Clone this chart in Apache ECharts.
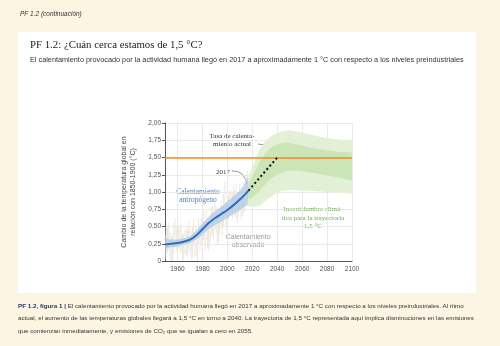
<!DOCTYPE html>
<html>
<head>
<meta charset="utf-8">
<script src="https://cdn.jsdelivr.net/npm/echarts@6/dist/echarts.min.js"></script>
<style>
  html, body { margin: 0; padding: 0; background: #fdf5e4; }
  #chart { width: 500px; height: 346px; }
</style>
</head>
<body>
<div id="chart"></div>
<script>
// Axis ticks
const yearTicks = [1960, 1980, 2000, 2020, 2040, 2060, 2080, 2100];
const tempTicks = [0, 0.25, 0.5, 0.75, 1, 1.25, 1.5, 1.75, 2];

// Human-induced warming (°C relative to 1850-1900) with its likely range
const anthroYears = [1950, 1955, 1960, 1965, 1970, 1975, 1980, 1985, 1990, 1995, 2000, 2005, 2010, 2015, 2017];
const anthroMid   = [0.24, 0.25, 0.26, 0.28, 0.31, 0.37, 0.46, 0.55, 0.62, 0.68, 0.74, 0.81, 0.89, 0.98, 1.02];
const anthroLow   = [0.18, 0.20, 0.21, 0.24, 0.26, 0.31, 0.38, 0.46, 0.52, 0.57, 0.62, 0.68, 0.74, 0.80, 0.82];
const anthroHigh  = [0.32, 0.31, 0.31, 0.33, 0.36, 0.44, 0.54, 0.64, 0.72, 0.79, 0.86, 0.94, 1.02, 1.16, 1.22];

// Observed monthly warming: yearly lowest and highest month
const obsYears = [1950, 1951, 1952, 1953, 1954, 1955, 1956, 1957, 1958, 1959,
                  1960, 1961, 1962, 1963, 1964, 1965, 1966, 1967, 1968, 1969,
                  1970, 1971, 1972, 1973, 1974, 1975, 1976, 1977, 1978, 1979,
                  1980, 1981, 1982, 1983, 1984, 1985, 1986, 1987, 1988, 1989,
                  1990, 1991, 1992, 1993, 1994, 1995, 1996, 1997, 1998, 1999,
                  2000, 2001, 2002, 2003, 2004, 2005, 2006, 2007, 2008, 2009,
                  2010, 2011, 2012, 2013, 2014, 2015, 2016, 2017];
const obsLow  = [0.02, 0.10, 0.12, 0.15, 0.04, 0.00, -0.02, 0.12, 0.20, 0.15,
                 0.10, 0.18, 0.15, 0.12, 0.00, 0.02, 0.10, 0.08, 0.05, 0.18,
                 0.12, 0.02, 0.05, 0.22, 0.05, 0.08, 0.00, 0.25, 0.15, 0.22,
                 0.28, 0.30, 0.15, 0.30, 0.18, 0.15, 0.25, 0.35, 0.38, 0.30,
                 0.45, 0.40, 0.25, 0.28, 0.38, 0.48, 0.38, 0.50, 0.65, 0.45,
                 0.48, 0.60, 0.68, 0.70, 0.62, 0.72, 0.65, 0.62, 0.55, 0.68,
                 0.75, 0.60, 0.65, 0.70, 0.72, 0.85, 0.90, 0.85];
const obsHigh = [0.38, 0.50, 0.48, 0.55, 0.42, 0.40, 0.35, 0.55, 0.62, 0.50,
                 0.48, 0.52, 0.48, 0.55, 0.38, 0.40, 0.45, 0.48, 0.45, 0.58,
                 0.50, 0.42, 0.50, 0.60, 0.42, 0.48, 0.42, 0.62, 0.52, 0.62,
                 0.68, 0.72, 0.55, 0.75, 0.55, 0.52, 0.58, 0.78, 0.80, 0.70,
                 0.85, 0.80, 0.65, 0.68, 0.75, 0.88, 0.78, 0.98, 1.15, 0.85,
                 0.85, 0.95, 1.02, 1.02, 0.98, 1.08, 1.02, 1.12, 0.92, 1.00,
                 1.12, 0.98, 1.05, 1.02, 1.08, 1.22, 1.30, 1.15];

// Climate uncertainty for the 1.5 °C pathway (outer and inner ranges)
const pathYears     = [2017, 2020, 2025, 2030, 2035, 2040, 2045, 2050, 2060, 2070, 2080, 2090, 2100];
const pathOuterLow  = [0.80, 0.78, 0.80, 0.86, 0.93, 0.99, 1.02, 1.03, 1.02, 1.01, 1.00, 1.00, 0.99];
const pathOuterHigh = [1.20, 1.35, 1.58, 1.72, 1.80, 1.85, 1.88, 1.89, 1.86, 1.82, 1.78, 1.76, 1.73];
const pathInnerLow  = [0.90, 0.92, 1.00, 1.10, 1.19, 1.25, 1.29, 1.31, 1.30, 1.27, 1.24, 1.21, 1.18];
const pathInnerHigh = [1.12, 1.22, 1.40, 1.55, 1.64, 1.69, 1.71, 1.71, 1.67, 1.63, 1.60, 1.58, 1.56];

// Extrapolation of the current warming rate, and the 1.5 °C level
const rateYears = [2017, 2040];
const rateTemps = [1.02, 1.50];
const targetLevel = 1.5;

const SANS = '"Liberation Sans Narrow", "Liberation Sans", sans-serif';
const SERIF = '"Liberation Serif", serif';

function zip(xs, ys) { return xs.map((x, i) => [x, ys[i]]); }

// Filled range between two curves, drawn once as a polygon through the axes' scales
function bandSeries(xs, lo, hi, fill, z) {
  return {
    type: 'custom', z: z, silent: true, clip: true,
    data: xs.map((x, i) => [x, lo[i], hi[i]]),
    encode: { x: 0, y: [1, 2] },
    renderItem: function (params, api) {
      if (params.dataIndex !== 0) return null;
      const top = xs.map((x, i) => api.coord([x, hi[i]]));
      const bottom = xs.map((x, i) => api.coord([x, lo[i]])).reverse();
      return {
        type: 'polygon',
        shape: { points: top.concat(bottom), smooth: 0.25 },
        style: { fill: fill }
      };
    }
  };
}

const chart = echarts.init(document.getElementById('chart'), null, { renderer: 'canvas' });

chart.setOption({
  backgroundColor: '#fdf5e4',
  animation: false,
  grid: { left: 165, top: 123, width: 187, height: 138, containLabel: false },
  xAxis: {
    type: 'value', min: 1950, max: 2100,
    axisLine: { show: true, lineStyle: { color: '#555', width: 1 } },
    axisTick: { show: false, customValues: yearTicks },
    axisLabel: { customValues: yearTicks, color: '#555', fontSize: 6.5, fontFamily: SANS, margin: 5,
                 formatter: v => String(v) },
    splitLine: { show: true, lineStyle: { color: '#e4e4e4', width: 0.8 } }
  },
  yAxis: {
    type: 'value', min: 0, max: 2, interval: 0.25,
    name: 'Cambio de la temperatura global en\nrelación con 1850-1900 (°C)',
    nameLocation: 'middle', nameRotate: 90, nameGap: 27,
    nameTextStyle: { color: '#444', fontSize: 7, fontFamily: SANS, lineHeight: 9 },
    axisLine: { show: true, lineStyle: { color: '#555', width: 1 } },
    axisTick: { show: true, length: 3, lineStyle: { color: '#555' } },
    axisLabel: {
      fontSize: 6.5, fontFamily: SANS, margin: 4,
      color: v => (v === targetLevel ? '#f08a24' : '#555'),
      formatter: v => (v === 0 ? '0' : v.toFixed(2).replace('.', ','))
    },
    splitLine: { show: true, lineStyle: { color: '#e4e4e4', width: 0.8 } }
  },
  series: [
    {
      type: 'custom', z: 1, silent: true, clip: true,
      data: obsYears.map((y, i) => [y, obsLow[i], obsHigh[i]]),
      encode: { x: 0, y: [1, 2] },
      renderItem: function (params, api) {
        const lo = api.coord([api.value(0), api.value(1)]);
        const hi = api.coord([api.value(0), api.value(2)]);
        return {
          type: 'rect',
          shape: { x: lo[0] - 0.5, y: hi[1], width: 1, height: lo[1] - hi[1] },
          style: { fill: '#ebe8dd' }
        };
      }
    },
    bandSeries(anthroYears, anthroLow, anthroHigh, 'rgba(160,192,230,0.6)', 2),
    bandSeries(pathYears, pathOuterLow, pathOuterHigh, '#e2f0d6', 2),
    bandSeries(pathYears, pathInnerLow, pathInnerHigh, '#cbe5b6', 3),
    {
      type: 'line', z: 4, silent: true, symbol: 'none',
      data: [],
      markLine: {
        silent: true, symbol: 'none', label: { show: false },
        lineStyle: { color: '#f28a26', width: 1.5, type: 'solid' },
        data: [{ yAxis: targetLevel }]
      }
    },
    {
      type: 'line', z: 5, silent: true, symbol: 'none', smooth: 0.4,
      data: zip(anthroYears, anthroMid),
      lineStyle: { color: '#2f6ec0', width: 2 }
    },
    {
      type: 'line', z: 6, silent: true, symbol: 'none',
      data: zip(rateYears, rateTemps),
      lineStyle: { color: '#111', width: 2, type: [2, 2.6] }
    }
  ],
  graphic: [
    { type: 'rect', z: -10, shape: { x: 18, y: 32, width: 458, height: 261 }, style: { fill: '#ffffff' } },
    { type: 'text', x: 20, y: 11, style: { text: 'PF 1.2 (continuación)', fill: '#333', fontSize: 6.5, fontStyle: 'italic', fontFamily: SANS } },
    { type: 'text', x: 30, y: 40, style: { text: 'PF 1.2: ¿Cuán cerca estamos de 1,5 °C?', fill: '#222', fontSize: 10.8, fontFamily: SERIF } },
    { type: 'text', x: 30, y: 56, style: { text: 'El calentamiento provocado por la actividad humana llegó en 2017 a aproximadamente 1 °C con respecto a los niveles preindustriales', fill: '#333', fontSize: 7.3, fontFamily: SANS } },

    { type: 'text', x: 232, y: 140, style: { text: 'Tasa de calenta-\nmiento actual', fill: '#333', fontSize: 7, lineHeight: 8.5, fontFamily: SERIF, align: 'center', verticalAlign: 'middle' } },
    { type: 'bezierCurve', shape: { x1: 258, y1: 144, cpx1: 272, cpy1: 144, x2: 273, y2: 158 }, style: { stroke: '#888', lineWidth: 0.9, fill: null } },
    { type: 'text', x: 223, y: 172, style: { text: '2017', fill: '#333', fontSize: 7, fontFamily: SERIF, align: 'center', verticalAlign: 'middle' } },
    { type: 'bezierCurve', shape: { x1: 232, y1: 171, cpx1: 244, cpy1: 170, x2: 247, y2: 184 }, style: { stroke: '#888', lineWidth: 0.9, fill: null } },
    { type: 'text', x: 198, y: 196, style: { text: 'Calentamiento\nantropógeno', fill: '#4a80c8', fontSize: 7.5, lineHeight: 8.5, fontFamily: SERIF, align: 'center', verticalAlign: 'middle' } },
    { type: 'text', x: 248, y: 241, style: { text: 'Calentamiento\nobservado', fill: '#9a9a9a', fontSize: 7, lineHeight: 8, fontFamily: SANS, align: 'center', verticalAlign: 'middle' } },
    { type: 'text', x: 313, y: 218, style: { text: 'Incertidumbre climá-\ntica para la trayectoria\n1,5 °C', fill: '#6aab48', fontSize: 7, lineHeight: 8.6, fontFamily: SERIF, align: 'center', verticalAlign: 'middle' } },

    { type: 'text', x: 18, y: 300, style: {
        text: '{b|PF 1.2, figura 1 |} El calentamiento provocado por la actividad humana llegó en 2017 a aproximadamente 1 °C con respecto a los niveles preindustriales. Al ritmo\n' +
              'actual, el aumento de las temperaturas globales llegará a 1,5 °C en torno a 2040. La trayectoria de 1,5 °C representada aquí implica disminuciones en las emisiones\n' +
              'que comienzan inmediatamente, y emisiones de CO₂ que se igualan a cero en 2055.',
        fill: '#333', fontSize: 6.25, lineHeight: 12.5, fontFamily: SANS,
        rich: { b: { fontWeight: 'bold', fill: '#23386a', fontSize: 6.25, fontFamily: SANS } }
    } }
  ]
});
</script>
</body>
</html>
